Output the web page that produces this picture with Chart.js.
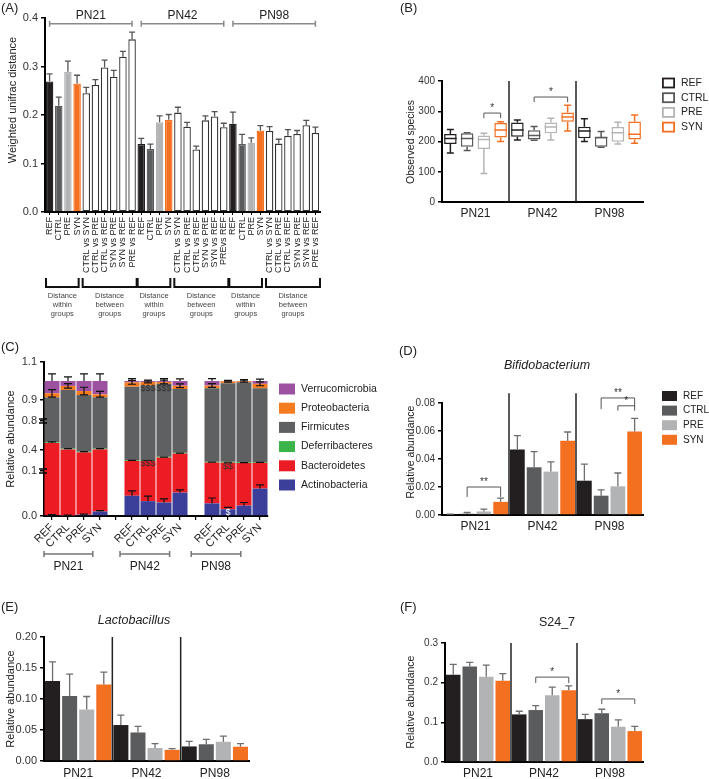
<!DOCTYPE html>
<html>
<head>
<meta charset="utf-8">
<title>Gut microbiota figure</title>
<script src="https://cdn.jsdelivr.net/npm/chart.js@4.4.1/dist/chart.umd.min.js"></script>
<style>
  body { margin: 0; background: #fff; font-family: "Liberation Sans", Arial, sans-serif; color: #222; }
  #fig { position: relative; width: 709px; height: 779px; overflow: hidden; }
  #fig canvas { position: absolute; }
  .tag { position: absolute; font-size: 13px; line-height: 15px; }
  .title { position: absolute; font-size: 12.5px; transform: translate(-50%, -50%); white-space: nowrap; }
  .ytitle { position: absolute; font-size: 11px; transform: translate(-50%, -50%) rotate(-90deg); white-space: nowrap; }
</style>
</head>
<body>
<div id="fig">
  <canvas id="chartA" width="360" height="330" style="left:0;top:0"></canvas>
  <canvas id="chartB" width="349" height="300" style="left:360px;top:0"></canvas>
  <canvas id="chartC" width="400" height="240" style="left:0;top:340px"></canvas>
  <canvas id="chartD" width="349" height="240" style="left:360px;top:340px"></canvas>
  <canvas id="chartE" width="360" height="179" style="left:0;top:600px"></canvas>
  <canvas id="chartF" width="349" height="179" style="left:360px;top:600px"></canvas>

  <div class="tag" style="left:1px;top:0">(A)</div>
  <div class="tag" style="left:400px;top:0">(B)</div>
  <div class="tag" style="left:1px;top:339px">(C)</div>
  <div class="tag" style="left:399px;top:343px">(D)</div>
  <div class="tag" style="left:1px;top:599px">(E)</div>
  <div class="tag" style="left:400px;top:599px">(F)</div>

  <div class="title" style="left:547px;top:365px;font-style:italic">Bifidobacterium</div>
  <div class="title" style="left:134px;top:620px;font-style:italic">Lactobacillus</div>
  <div class="title" style="left:557px;top:622px">S24_7</div>

  <div class="ytitle" style="left:12px;top:100px">Weighted unifrac distance</div>
  <div class="ytitle" style="left:410px;top:142px;font-size:10.5px">Observed species</div>
  <div class="ytitle" style="left:10px;top:439px">Relative abundance</div>
  <div class="ytitle" style="left:410px;top:452px;font-size:10.5px">Relative abundance</div>
  <div class="ytitle" style="left:10px;top:699px">Relative abundance</div>
  <div class="ytitle" style="left:410px;top:702px;font-size:10.5px">Relative abundance</div>
</div>
<script>
const FONT = '"Liberation Sans", Arial, sans-serif';
Chart.defaults.font.family = FONT;
Chart.defaults.color = '#333';

const ages = ['PN21', 'PN42', 'PN98'];
const diets = ['REF', 'CTRL', 'PRE', 'SYN'];
const dietColors = ['#231f20', '#5b5c5e', '#b2b3b4', '#f37021'];

// (A) weighted unifrac distances, 10 comparisons per age
const pairLabels = ['CTRL vs SYN', 'CTRL vs PRE', 'CTRL vs REF', 'SYN vs PRE', 'SYN vs REF', 'PRE vs REF'];
const pairLabelsPN42 = ['CTRL vs SYN', 'CTRL vs PRE', 'CTRL vs REF', 'SYN vs PRE', 'SYN vs REF', 'PREvs REF'];
const distanceLabels = [...diets, ...pairLabels, ...diets, ...pairLabelsPN42, ...diets, ...pairLabels];
const unifracPN21 = [0.269, 0.219, 0.289, 0.265, 0.245, 0.262, 0.298, 0.279, 0.320, 0.356];
const unifracPN21Err = [0.016, 0.018, 0.022, 0.017, 0.012, 0.011, 0.015, 0.013, 0.011, 0.015];
const unifracPN42 = [0.140, 0.130, 0.185, 0.190, 0.205, 0.176, 0.129, 0.189, 0.197, 0.175];
const unifracPN42Err = [0.012, 0.010, 0.013, 0.011, 0.011, 0.009, 0.007, 0.009, 0.010, 0.008];
const unifracPN98 = [0.182, 0.140, 0.143, 0.168, 0.167, 0.141, 0.157, 0.161, 0.179, 0.163];
const unifracPN98Err = [0.024, 0.020, 0.010, 0.010, 0.009, 0.009, 0.013, 0.007, 0.010, 0.012];

// (B) observed species: [min, q1, median, q3, max] per age
const obsREF = [[162, 192, 210, 225, 240], [205, 216, 238, 263, 271], [200, 211, 235, 249, 275]];
const obsCTRL = [[170, 183, 210, 227, 229], [204, 207, 220, 237, 250], [181, 183, 213, 215, 233]];
const obsPRE = [[94, 175, 207, 220, 227], [205, 227, 248, 263, 277], [192, 199, 229, 248, 264]];
const obsSYN = [[200, 213, 238, 261, 265], [235, 265, 281, 296, 320], [194, 207, 224, 266, 288]];

// (C) phylum composition, blank slot between ages
const compLabels = ['REF', 'CTRL', 'PRE', 'SYN', '', 'REF', 'CTRL', 'PRE', 'SYN', '', 'REF', 'CTRL', 'PRE', 'SYN'];
const phyla = ['Actinobacteria', 'Bacteroidetes', 'Deferribacteres', 'Firmicutes', 'Proteobacteria', 'Verrucomicrobia'];
const phylumColors = ['#3b3f99', '#ec1c24', '#3bb54a', '#5f6062', '#f47b20', '#9c52a1'];
const actinobacteria = [0.002, 0.001, 0.003, 0.010, null, 0.045, 0.033, 0.030, 0.052, null, 0.028, 0.015, 0.023, 0.061];
const bacteroidetes = [0.494, 0.407, 0.363, 0.398, null, 0.200, 0.211, 0.262, 0.297, null, 0.193, 0.204, 0.191, 0.156];
const deferribacteres = [0.010, 0.010, 0.010, 0.010, null, 0.012, 0.012, 0.012, 0.012, null, 0.012, 0.012, 0.012, 0.012];
const firmicutes = [0.408, 0.535, 0.550, 0.496, null, 0.713, 0.720, 0.681, 0.597, null, 0.729, 0.757, 0.767, 0.733];
const proteobacteria = [0.021, 0.021, 0.021, 0.016, null, 0.023, 0.019, 0.010, 0.017, null, 0.014, 0.010, 0.006, 0.023];
const verrucomicrobia = [0.065, 0.026, 0.053, 0.070, null, 0.007, 0.005, 0.005, 0.025, null, 0.024, 0.002, 0.001, 0.015];
const actinoErr = [0.001, 0.001, 0.001, 0.002, null, 0.011, 0.011, 0.008, 0.006, null, 0.012, 0.004, 0.007, 0.008];
const bacteroErr = [0.015, 0.012, 0.012, 0.010, null, 0.006, 0.006, 0.006, 0.006, null, 0.006, 0.006, 0.006, 0.006];
const proteoErr = [0.020, 0.012, 0.020, 0.015, null, 0.010, 0.005, 0.010, 0.010, null, 0.010, 0.004, 0.005, 0.010];
const verrucoErr = [0.037, 0.022, 0.037, 0.037, null, 0.012, 0.005, 0.012, 0.011, null, 0.013, 0.004, 0.008, 0.010];
const compAxisTicks = [0, 0.1, 0.4, 0.8, 0.9, 1.1];

// (D) Bifidobacterium
const bifidoREF = [0.0003, 0.0468, 0.0245];
const bifidoCTRL = [0.0009, 0.0341, 0.0138];
const bifidoPRE = [0.0025, 0.0310, 0.0205];
const bifidoSYN = [0.0094, 0.0530, 0.0596];
const bifidoErr = [[0.0003, 0.0099, 0.0119], [0.0009, 0.0112, 0.0042], [0.0017, 0.0070, 0.0095], [0.0026, 0.0063, 0.0094]];

// (E) Lactobacillus
const lactoREF = [0.129, 0.058, 0.0235];
const lactoCTRL = [0.105, 0.046, 0.027];
const lactoPRE = [0.083, 0.021, 0.031];
const lactoSYN = [0.1235, 0.018, 0.023];
const lactoErr = [[0.031, 0.016, 0.008], [0.035, 0.010, 0.008], [0.021, 0.007, 0.009], [0.020, 0.002, 0.005]];

// (F) S24_7
const s24REF = [0.220, 0.120, 0.108];
const s24CTRL = [0.241, 0.131, 0.123];
const s24PRE = [0.215, 0.168, 0.089];
const s24SYN = [0.205, 0.181, 0.078];
const s24Err = [[0.026, 0.008, 0.012], [0.010, 0.011, 0.010], [0.029, 0.021, 0.017], [0.018, 0.011, 0.012]];

// ---------- shared helpers ----------
function baseOptions(pad, scales) {
  return {
    responsive: false, animation: false, events: [],
    layout: { padding: Object.assign({ left: 0, bottom: 0 }, pad) },
    plugins: { legend: { display: false }, tooltip: { enabled: false } },
    scales
  };
}
function valueAxis(max, step, width, size, digits) {
  return {
    min: 0, max,
    ticks: { stepSize: step, color: '#333', font: { size }, padding: 3, callback: v => v.toFixed(digits) },
    grid: { drawOnChartArea: false, color: '#000', lineWidth: 1.5, tickLength: 4 },
    border: { color: '#000', width: 2 },
    afterFit: s => { s.width = width; }
  };
}
function groupAxis(height, size, pad) {
  return {
    ticks: { color: '#222', font: { size }, padding: pad },
    grid: { display: false, drawTicks: false },
    border: { color: '#000', width: 2 },
    afterFit: s => { s.height = height; }
  };
}
function errorBars(errs, color, cap) {
  return {
    id: 'errorBars',
    afterDatasetsDraw(chart) {
      const { ctx, scales: { y } } = chart;
      ctx.save();
      ctx.strokeStyle = color; ctx.lineWidth = 1.3;
      chart.data.datasets.forEach((ds, k) => {
        chart.getDatasetMeta(k).data.forEach((bar, i) => {
          const v = ds.data[i], e = errs[k][i];
          if (v == null || e == null) return;
          const y0 = y.getPixelForValue(v), y1 = y.getPixelForValue(v + e);
          ctx.beginPath();
          ctx.moveTo(bar.x, y0); ctx.lineTo(bar.x, y1);
          ctx.moveTo(bar.x - cap, y1); ctx.lineTo(bar.x + cap, y1);
          ctx.stroke();
        });
      });
      ctx.restore();
    }
  };
}
function groupSeparators(topValue) {
  return {
    id: 'groupSeparators',
    afterDatasetsDraw(chart) {
      const { ctx, chartArea, scales: { x, y } } = chart;
      const top = y.getPixelForValue(topValue);
      ctx.save();
      ctx.strokeStyle = '#222'; ctx.lineWidth = 1.5;
      for (let i = 1; i < chart.data.labels.length; i++) {
        const px = (x.getPixelForValue(i - 1) + x.getPixelForValue(i)) / 2;
        ctx.beginPath(); ctx.moveTo(px, top); ctx.lineTo(px, chartArea.bottom); ctx.stroke();
      }
      ctx.restore();
    }
  };
}
function sigBrackets(list) {
  return {
    id: 'sigBrackets',
    afterDatasetsDraw(chart) {
      const { ctx, scales: { y } } = chart;
      ctx.save();
      ctx.strokeStyle = '#555'; ctx.fillStyle = '#333'; ctx.lineWidth = 1;
      ctx.font = '10px ' + FONT; ctx.textAlign = 'center'; ctx.textBaseline = 'bottom';
      list.forEach(b => {
        const x1 = chart.getDatasetMeta(b.from).data[b.group].x;
        const x2 = chart.getDatasetMeta(b.to).data[b.group].x;
        const yt = y.getPixelForValue(b.top);
        ctx.beginPath();
        ctx.moveTo(x1, y.getPixelForValue(b.legL)); ctx.lineTo(x1, yt);
        ctx.lineTo(x2, yt); ctx.lineTo(x2, y.getPixelForValue(b.legR));
        ctx.stroke();
        ctx.fillText(b.text, (x1 + x2) / 2, yt);
      });
      ctx.restore();
    }
  };
}
function sideLegend(labels, colors, x, y0, dy, w, h, size, outline) {
  return {
    id: 'sideLegend',
    afterDraw(chart) {
      const ctx = chart.ctx;
      ctx.save();
      ctx.font = size + 'px ' + FONT; ctx.textBaseline = 'middle'; ctx.textAlign = 'left';
      labels.forEach((lab, k) => {
        const cy = y0 + k * dy;
        if (outline) {
          ctx.strokeStyle = colors[k]; ctx.lineWidth = 1.8;
          ctx.strokeRect(x + 0.9, cy - h / 2, w - 1.8, h);
        } else {
          ctx.fillStyle = colors[k]; ctx.fillRect(x, cy - h / 2, w, h);
        }
        ctx.fillStyle = '#222';
        ctx.fillText(lab, x + w + 6, cy);
      });
      ctx.restore();
    }
  };
}

// ---------- (A) ----------
const aFill = [], aBorder = [];
ages.forEach(() => {
  aFill.push(...dietColors, ...Array(6).fill('#ffffff'));
  aBorder.push(...dietColors, ...Array(6).fill('#333333'));
});
const aGroups = {
  id: 'aGroups',
  afterDraw(chart) {
    const { ctx, chartArea, scales: { x, y } } = chart;
    const step = x.getPixelForValue(1) - x.getPixelForValue(0);
    const left = i => x.getPixelForValue(i) - step / 2;
    ctx.save();
    ages.forEach((age, g) => {
      // age bracket on top
      const x1 = x.getPixelForValue(g * 10), x2 = x.getPixelForValue(g * 10 + 9);
      const yy = y.getPixelForValue(0.388);
      ctx.strokeStyle = '#8a8a8a'; ctx.lineWidth = 1.5;
      ctx.beginPath();
      ctx.moveTo(x1, yy); ctx.lineTo(x2, yy);
      ctx.moveTo(x1, yy - 3); ctx.lineTo(x1, yy + 3);
      ctx.moveTo(x2, yy - 3); ctx.lineTo(x2, yy + 3);
      ctx.stroke();
      ctx.fillStyle = '#222'; ctx.font = '12px ' + FONT;
      ctx.textAlign = 'center'; ctx.textBaseline = 'bottom';
      ctx.fillText(age, (x1 + x2) / 2, yy - 2);
      // within / between brackets below the labels
      const spans = [[left(g * 10) + 1, left(g * 10 + 3) + step - 3, 'within'],
                     [left(g * 10 + 4) + 1, left(g * 10 + 9) + step, 'between']];
      const yb = chartArea.bottom + 75, yl = chartArea.bottom + 66;
      spans.forEach(([a, b, word]) => {
        ctx.strokeStyle = '#111'; ctx.lineWidth = 2;
        ctx.beginPath();
        ctx.moveTo(a, yl); ctx.lineTo(a, yb); ctx.lineTo(b, yb); ctx.lineTo(b, yl);
        ctx.stroke();
        ctx.fillStyle = '#444'; ctx.font = '7.5px ' + FONT; ctx.textBaseline = 'middle';
        const cx = (a + b) / 2;
        ctx.fillText('Distance', cx, chartArea.bottom + 84);
        ctx.fillText(word, cx, chartArea.bottom + 93);
        ctx.fillText('groups', cx, chartArea.bottom + 102);
      });
    });
    ctx.restore();
  }
};
new Chart(document.getElementById('chartA'), {
  type: 'bar',
  data: {
    labels: distanceLabels,
    datasets: [{
      data: [...unifracPN21, ...unifracPN42, ...unifracPN98],
      backgroundColor: aFill, borderColor: aBorder, borderWidth: 1.3, borderSkipped: false,
      barPercentage: 0.82, categoryPercentage: 1
    }]
  },
  options: baseOptions({ top: 18, right: 40 }, {
    x: {
      ticks: { autoSkip: false, minRotation: 90, maxRotation: 90, font: { size: 9 }, padding: 2, color: '#222' },
      grid: { offset: false, drawOnChartArea: false, color: '#000', lineWidth: 1, tickLength: 3 },
      border: { color: '#000', width: 2 },
      afterFit: s => { s.height = 118; }
    },
    y: valueAxis(0.4, 0.1, 45, 11, 1)
  }),
  plugins: [errorBars([[...unifracPN21Err, ...unifracPN42Err, ...unifracPN98Err]], '#555', 3), aGroups]
});

// ---------- (B) ----------
const boxSets = [obsREF, obsCTRL, obsPRE, obsSYN];
const boxColors = ['#231f20', '#58595b', '#b5b5b5', '#f36f21'];
const boxWhiskers = {
  id: 'boxWhiskers',
  afterDatasetsDraw(chart) {
    const { ctx, scales: { y } } = chart;
    ctx.save();
    ctx.lineWidth = 1.5;
    boxSets.forEach((set, k) => {
      const meta = chart.getDatasetMeta(k);
      ctx.strokeStyle = boxColors[k];
      set.forEach((b, g) => {
        const bar = meta.data[g], half = bar.width / 2;
        const [mn, q1, md, q3, mx] = b.map(v => y.getPixelForValue(v));
        ctx.beginPath();
        ctx.moveTo(bar.x - half, md); ctx.lineTo(bar.x + half, md);
        ctx.moveTo(bar.x, q3); ctx.lineTo(bar.x, mx);
        ctx.moveTo(bar.x - 3.5, mx); ctx.lineTo(bar.x + 3.5, mx);
        ctx.moveTo(bar.x, q1); ctx.lineTo(bar.x, mn);
        ctx.moveTo(bar.x - 3.5, mn); ctx.lineTo(bar.x + 3.5, mn);
        ctx.stroke();
      });
    });
    ctx.restore();
  }
};
new Chart(document.getElementById('chartB'), {
  type: 'bar',
  data: {
    labels: ages,
    datasets: diets.map((d, k) => ({
      label: d,
      data: boxSets[k].map(b => [b[1], b[3]]),
      backgroundColor: '#ffffff', borderColor: boxColors[k], borderWidth: 1.5, borderSkipped: false,
      barPercentage: 0.75, categoryPercentage: 1
    }))
  },
  options: baseOptions({ top: 81, right: 66 }, {
    x: groupAxis(98, 12, 4),
    y: valueAxis(400, 100, 82, 10, 0)
  }),
  plugins: [groupSeparators(400), boxWhiskers,
    sigBrackets([
      { group: 0, from: 2, to: 3, top: 294, legL: 277, legR: 277, text: '*' },
      { group: 1, from: 1, to: 3, top: 347, legL: 330, legR: 330, text: '*' }
    ]),
    sideLegend(diets, boxColors, 302, 83, 14.7, 13, 9, 10.5, true)]
});

// ---------- (C) ----------
// broken value axis: each listed tick sits at a fixed height above the baseline
const compTickHeights = [0, 45, 66, 95, 116, 154];
function cf(v) {
  for (let k = 1; k < compAxisTicks.length; k++) {
    if (v <= compAxisTicks[k] || k === compAxisTicks.length - 1) {
      const t = (v - compAxisTicks[k - 1]) / (compAxisTicks[k] - compAxisTicks[k - 1]);
      return compTickHeights[k - 1] + t * (compTickHeights[k] - compTickHeights[k - 1]);
    }
  }
}
const phylumValues = [actinobacteria, bacteroidetes, deferribacteres, firmicutes, proteobacteria, verrucomicrobia];
const phylumErrors = [actinoErr, bacteroErr, null, null, proteoErr, verrucoErr];
const phylumTops = phylumValues.map(() => []);
const phylumSpans = phylumValues.map(() => []);
compLabels.forEach((lab, i) => {
  let sum = 0;
  phylumValues.forEach((vals, p) => {
    if (vals[i] == null) { phylumSpans[p].push(null); phylumTops[p].push(null); return; }
    phylumSpans[p].push([cf(sum), cf(sum + vals[i])]);
    sum += vals[i];
    phylumTops[p].push(sum);
  });
});
const compMarks = [
  { i: 6, v: 0.958, text: '$$$', color: '#333' },
  { i: 7, v: 0.958, text: '$$$', color: '#333' },
  { i: 6, v: 0.214, text: '$$$', color: '#333' },
  { i: 11, v: 0.157, text: '$$', color: '#333' },
  { i: 11, v: 0.007, text: '$', color: '#fff' }
];
const compExtras = {
  id: 'compExtras',
  afterDatasetsDraw(chart) {
    const { ctx, chartArea, scales: { x, y } } = chart;
    ctx.save();
    // error bars
    ctx.strokeStyle = '#111'; ctx.lineWidth = 1.2;
    phylumErrors.forEach((errs, p) => {
      if (!errs) return;
      errs.forEach((e, i) => {
        if (e == null) return;
        const top = phylumTops[p][i], px = x.getPixelForValue(i);
        const yUp = y.getPixelForValue(cf(top + e));
        const both = p === 4;
        const yDn = y.getPixelForValue(cf(both ? top - e : top));
        ctx.beginPath();
        ctx.moveTo(px, yDn); ctx.lineTo(px, yUp);
        ctx.moveTo(px - 4, yUp); ctx.lineTo(px + 4, yUp);
        if (both) { ctx.moveTo(px - 4, yDn); ctx.lineTo(px + 4, yDn); }
        ctx.stroke();
      });
    });
    // significance marks
    ctx.font = '9px ' + FONT; ctx.textAlign = 'center'; ctx.textBaseline = 'middle';
    compMarks.forEach(m => {
      ctx.fillStyle = m.color;
      ctx.fillText(m.text, x.getPixelForValue(m.i), y.getPixelForValue(cf(m.v)));
    });
    // axis breaks at 0.8 and 0.1
    [0.8, 0.1].forEach(v => {
      const yy = y.getPixelForValue(cf(v)), ax = chartArea.left;
      ctx.strokeStyle = '#000'; ctx.lineWidth = 1.6;
      ctx.beginPath();
      ctx.moveTo(ax - 5, yy - 2); ctx.lineTo(ax + 3, yy - 2);
      ctx.moveTo(ax - 5, yy + 2); ctx.lineTo(ax + 3, yy + 2);
      ctx.stroke();
    });
    ctx.restore();
  },
  afterDraw(chart) {
    const { ctx, chartArea, scales: { x } } = chart;
    const step = x.getPixelForValue(1) - x.getPixelForValue(0);
    const at = k => x.getPixelForValue(0) + k * step;
    const spans = [[-0.5, 2.55], [4.25, 7.35], [8.7, 11.8]];
    ctx.save();
    ages.forEach((age, g) => {
      const a = at(spans[g][0]), b = at(spans[g][1]), yb = chartArea.bottom + 38;
      ctx.strokeStyle = '#777'; ctx.lineWidth = 1.5;
      ctx.beginPath();
      ctx.moveTo(a, yb); ctx.lineTo(b, yb);
      ctx.moveTo(a, yb - 3); ctx.lineTo(a, yb + 3);
      ctx.moveTo(b, yb - 3); ctx.lineTo(b, yb + 3);
      ctx.stroke();
      ctx.fillStyle = '#222'; ctx.font = '12px ' + FONT; ctx.textAlign = 'center'; ctx.textBaseline = 'middle';
      ctx.fillText(age, (a + b) / 2, chartArea.bottom + 51);
    });
    ctx.restore();
  }
};
new Chart(document.getElementById('chartC'), {
  type: 'bar',
  data: {
    labels: compLabels,
    datasets: phyla.map((name, p) => ({
      label: name, data: phylumSpans[p], backgroundColor: phylumColors[p],
      borderWidth: 0, grouped: false, barPercentage: 0.94, categoryPercentage: 1
    }))
  },
  options: baseOptions({ top: 22, right: 132 }, {
    x: {
      ticks: { autoSkip: false, minRotation: 45, maxRotation: 45, font: { size: 11 }, padding: 1, color: '#222' },
      grid: { offset: false, drawOnChartArea: false, color: '#000', lineWidth: 1.2, tickLength: 4 },
      border: { color: '#000', width: 2 },
      afterFit: s => { s.height = 64; }
    },
    y: {
      min: 0, max: compTickHeights[compTickHeights.length - 1],
      afterBuildTicks: s => { s.ticks = compAxisTicks.map(v => ({ value: cf(v) })); },
      ticks: { color: '#333', font: { size: 11 }, padding: 3, callback: (v, i) => compAxisTicks[i].toFixed(1) },
      grid: { drawOnChartArea: false, color: '#000', lineWidth: 1.5, tickLength: 4 },
      border: { color: '#000', width: 2 },
      afterFit: s => { s.width = 44; }
    }
  }),
  plugins: [compExtras,
    sideLegend(phyla.slice().reverse(), phylumColors.slice().reverse(), 279, 49, 19.2, 16, 11, 10.5, false)]
});

// ---------- (D) ----------
new Chart(document.getElementById('chartD'), {
  type: 'bar',
  data: {
    labels: ages,
    datasets: [bifidoREF, bifidoCTRL, bifidoPRE, bifidoSYN].map((vals, k) => ({
      label: diets[k], data: vals, backgroundColor: dietColors[k], borderWidth: 0,
      barPercentage: 0.88, categoryPercentage: 1
    }))
  },
  options: baseOptions({ top: 63, right: 66 }, {
    x: groupAxis(65, 12, 4),
    y: valueAxis(0.08, 0.02, 82, 10, 2)
  }),
  plugins: [groupSeparators(0.087), errorBars(bifidoErr, '#6d6e70', 3.5),
    sigBrackets([
      { group: 0, from: 1, to: 3, top: 0.020, legL: 0.0129, legR: 0.0129, text: '**' },
      { group: 2, from: 1, to: 3, top: 0.0836, legL: 0.0757, legR: 0.0774, text: '**' },
      { group: 2, from: 2, to: 3, top: 0.078, legL: 0.0745, legR: 0.0745, text: '*' }
    ]),
    sideLegend(diets, dietColors, 302, 56, 14.6, 15, 10, 10, false)]
});

// ---------- (E) ----------
new Chart(document.getElementById('chartE'), {
  type: 'bar',
  data: {
    labels: ages,
    datasets: [lactoREF, lactoCTRL, lactoPRE, lactoSYN].map((vals, k) => ({
      label: diets[k], data: vals, backgroundColor: dietColors[k], borderWidth: 0,
      barPercentage: 0.88, categoryPercentage: 1
    }))
  },
  options: baseOptions({ top: 37, right: 111 }, {
    x: groupAxis(18, 12, 5),
    y: valueAxis(0.2, 0.05, 44, 11, 2)
  }),
  plugins: [groupSeparators(0.2), errorBars(lactoErr, '#6d6e70', 3.5)]
});

// ---------- (F) ----------
new Chart(document.getElementById('chartF'), {
  type: 'bar',
  data: {
    labels: ages,
    datasets: [s24REF, s24CTRL, s24PRE, s24SYN].map((vals, k) => ({
      label: diets[k], data: vals, backgroundColor: dietColors[k], borderWidth: 0,
      barPercentage: 0.88, categoryPercentage: 1
    }))
  },
  options: baseOptions({ top: 43, right: 66 }, {
    x: groupAxis(17, 12, 4),
    y: valueAxis(0.3, 0.1, 85, 10, 1)
  }),
  plugins: [groupSeparators(0.3), errorBars(s24Err, '#6d6e70', 3.5),
    sigBrackets([
      { group: 1, from: 1, to: 3, top: 0.214, legL: 0.199, legR: 0.199, text: '*' },
      { group: 2, from: 1, to: 3, top: 0.159, legL: 0.146, legR: 0.146, text: '*' }
    ])]
});
</script>
</body>
</html>
